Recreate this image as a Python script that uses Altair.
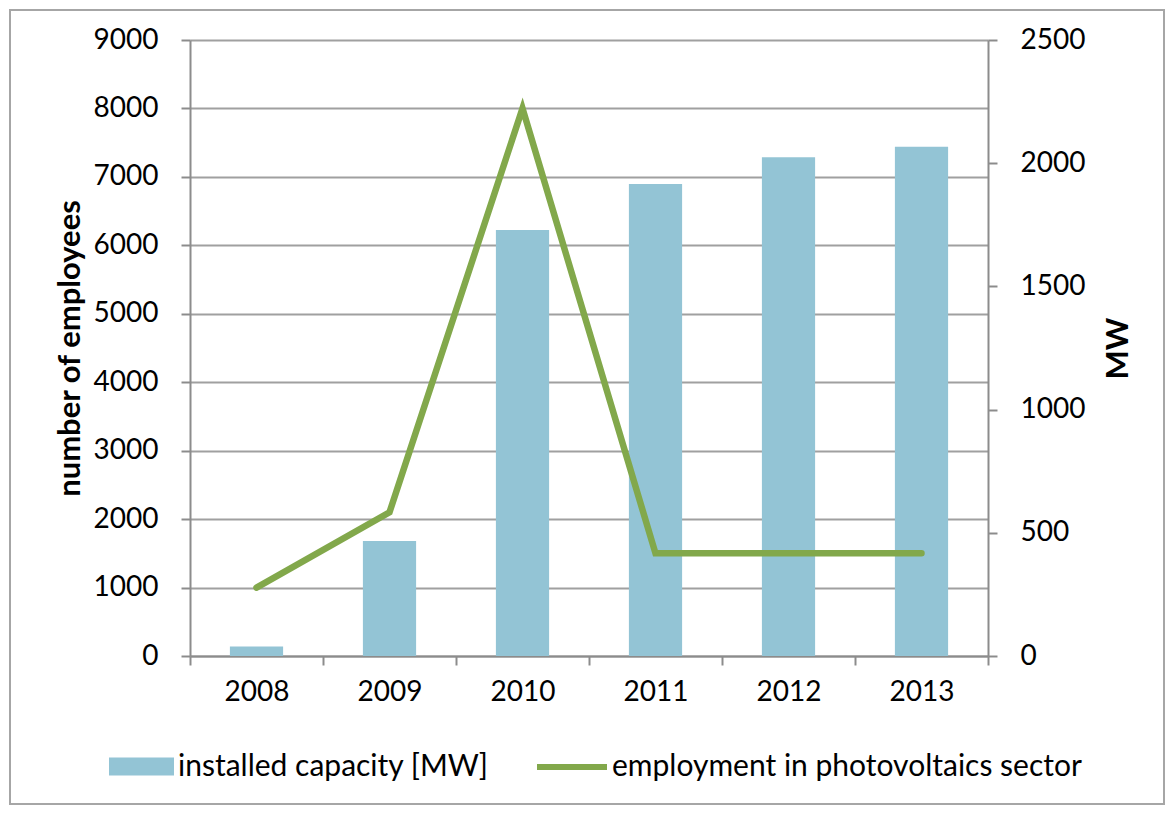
import altair as alt
import pandas as pd

years = ["2008", "2009", "2010", "2011", "2012", "2013"]
capacity_mw = [39, 467, 1729, 1916, 2024, 2067]
employees = [1000, 2100, 8000, 1500, 1500, 1500]
left_ticks = [0, 1000, 2000, 3000, 4000, 5000, 6000, 7000, 8000, 9000]
right_ticks = [0, 500, 1000, 1500, 2000, 2500]
bar_label = "installed capacity [MW]"
line_label = "employment in photovoltaics sector"

df = pd.DataFrame({
    "year": years,
    "capacity": capacity_mw,
    "employment": employees,
    "s1": [bar_label] * len(years),
    "s2": [line_label] * len(years),
})

FONT = "Lato"
GRAY = "#8c8c8c"
BAR_C = "#93C4D5"
LINE_C = "#82A84B"
W, H = 798, 616
TICK_FS = 28
LEG_FS = 30
TITLE_FS = 31

x_enc = alt.X(
    "year:O",
    scale=alt.Scale(paddingInner=0, paddingOuter=0),
    axis=alt.Axis(
        title=None, labelAngle=0, tickBand="extent", tickSize=9, tickWidth=2,
        tickColor=GRAY, domainColor=GRAY, domainWidth=2, labelFont=FONT,
        labelFontSize=TICK_FS, labelColor="#000", labelPadding=13, grid=False,
    ),
)

bars = alt.Chart(df).mark_bar(width=alt.RelativeBandSize(0.4)).encode(
    x=x_enc,
    y=alt.Y(
        "capacity:Q",
        scale=alt.Scale(domain=[0, 2500], nice=False),
        axis=alt.Axis(
            orient="right", values=right_ticks, format="d", grid=False,
            title="MW", titleAngle=270, titleX=130, titleY=H / 2,
            titleAlign="center", titleBaseline="middle", titleFont=FONT,
            titleFontSize=TITLE_FS, titleFontWeight="bold", titleColor="#000",
            tickSize=9, tickWidth=2, tickColor=GRAY, domainColor=GRAY,
            domainWidth=2, labelFont=FONT, labelFontSize=TICK_FS,
            labelColor="#000", labelPadding=23,
        ),
    ),
    color=alt.Color(
        "s1:N",
        scale=alt.Scale(domain=[bar_label], range=[BAR_C]),
        legend=alt.Legend(
            title=None, orient="none", legendX=-81, legendY=694,
            symbolType="M-1,-0.28H1V0.28H-1Z", symbolSize=4225,
            symbolStrokeWidth=0, labelFont=FONT, labelFontSize=LEG_FS,
            labelColor="#000", labelLimit=0, labelOffset=4, padding=0,
        ),
    ),
)

line = alt.Chart(df).mark_line(
    strokeWidth=6.5, strokeCap="round", strokeJoin="miter"
).encode(
    x=x_enc,
    y=alt.Y(
        "employment:Q",
        scale=alt.Scale(domain=[0, 9000], nice=False),
        axis=alt.Axis(
            orient="left", values=left_ticks, format="d", grid=True,
            gridColor="#a0a0a0", gridWidth=2, title="number of employees",
            titleAngle=270, titleX=-120, titleY=H / 2, titleAlign="center",
            titleBaseline="middle", titleFont=FONT, titleFontSize=TITLE_FS,
            titleFontWeight="bold", titleColor="#000", tickSize=9, tickWidth=2,
            tickColor=GRAY, domainColor=GRAY, domainWidth=2, labelFont=FONT,
            labelFontSize=TICK_FS, labelColor="#000", labelPadding=23,
        ),
    ),
    stroke=alt.Stroke(
        "s2:N",
        scale=alt.Scale(domain=[line_label], range=[LINE_C]),
        legend=alt.Legend(
            title=None, orient="none", legendX=344, legendY=689,
            symbolType="stroke", symbolSize=4900, symbolStrokeWidth=6,
            labelFont=FONT, labelFontSize=LEG_FS, labelColor="#000",
            labelLimit=0, labelOffset=2, padding=0,
        ),
    ),
)

frame = alt.Chart(df).mark_rect(
    fill=None, stroke="#a6a6a6", strokeWidth=2, clip=False
).encode(
    x=alt.value(-180), x2=alt.value(W + 176),
    y=alt.value(-30), y2=alt.value(H + 148),
)

chart = alt.layer(bars, line, frame).resolve_scale(
    y="independent", color="independent", stroke="independent"
).properties(
    width=W, height=H,
    autosize=alt.AutoSizeParams(type="none"),
    padding={"left": 182, "top": 32, "right": 179, "bottom": 151},
).configure_view(stroke=None)

chart.save("out.html", embed_options={"renderer": "svg", "actions": False})
